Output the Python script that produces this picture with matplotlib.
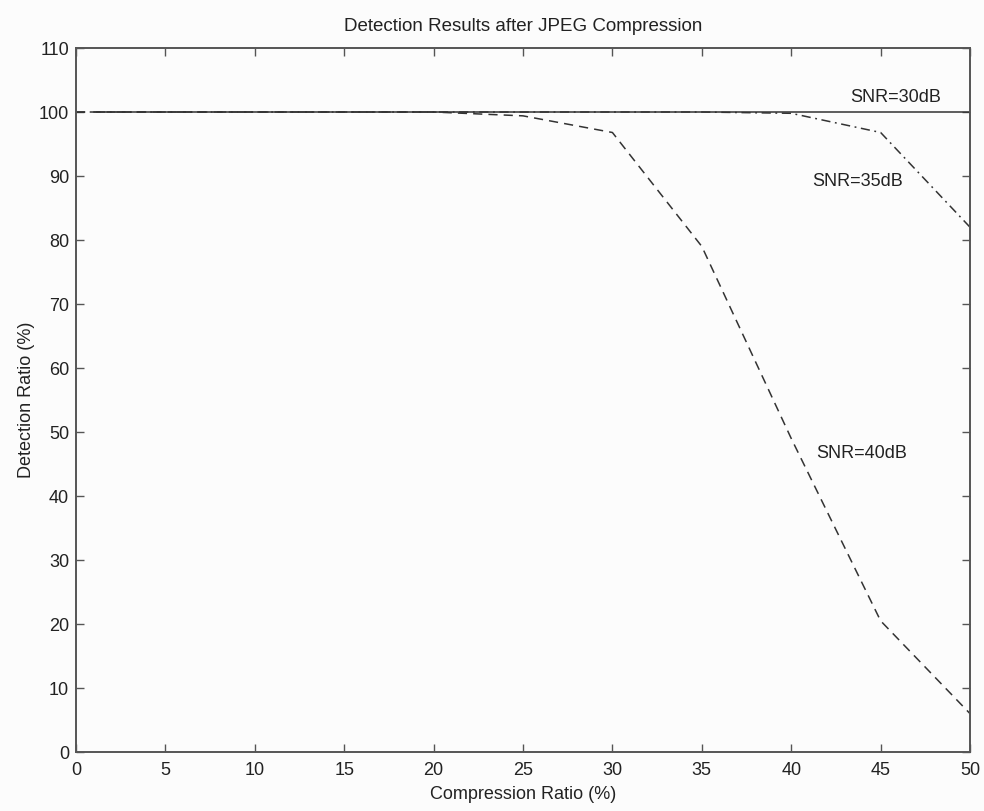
import matplotlib
matplotlib.use("Agg")
import matplotlib.pyplot as plt

plt.rcParams['font.family'] = ['Liberation Sans', 'DejaVu Sans']

# SNR = 30 dB (solid)
x30 = [1, 5, 10, 15, 20, 25, 30, 35, 40, 45, 50]
y30 = [100, 100, 100, 100, 100, 100, 100, 100, 100, 100, 100]

# SNR = 35 dB (dash-dot)
x35 = [0, 5, 10, 15, 20, 25, 30, 35, 40, 45, 50]
y35 = [100, 100, 100, 100, 100, 100, 100, 100, 99.8, 96.8, 82]

# SNR = 40 dB (dashed)
x40 = [0, 5, 10, 15, 20, 25, 30, 35, 40, 45, 50]
y40 = [100, 100, 100, 100, 100, 99.4, 96.8, 79, 49, 20.5, 6]

labels = ["SNR=30dB", "SNR=35dB", "SNR=40dB"]
label_pos = [(43.3, 102.2), (41.2, 89.1), (41.4, 46.7)]

xticks = list(range(0, 51, 5))
yticks = list(range(0, 111, 10))

FS = 13

fig = plt.figure(figsize=(9.84, 8.11), dpi=100, facecolor='#fcfcfc')
ax = fig.add_axes([0.0772, 0.0727, 0.9086, 0.8681])
ax.set_facecolor('#fcfcfc')

ax.plot(x30, y30, color='#333333', lw=1.1, linestyle='-')
ax.plot(x35, y35, color='#333333', lw=1.1, linestyle=(0, (6, 3, 1.2, 3)))
ax.plot(x40, y40, color='#333333', lw=1.1, linestyle=(0, (6, 4)))

for t, (lx, ly) in zip(labels, label_pos):
    ax.text(lx, ly, t, fontsize=FS, color='#222222', ha='left', va='center')

ax.set_xlim(0, 50)
ax.set_ylim(0, 110)
ax.set_xticks(xticks)
ax.set_yticks(yticks)
ax.tick_params(direction='in', length=6, width=1, colors='#555555',
               labelcolor='#222222', labelsize=FS, top=True, right=True)
ax.tick_params(axis='x', pad=7)
ax.tick_params(axis='y', pad=5)
for s in ax.spines.values():
    s.set_color('#555555')
    s.set_linewidth(1.4)

ax.set_title("Detection Results after JPEG Compression", fontsize=FS + 0.5, color='#222222', pad=12)
ax.set_xlabel("Compression Ratio (%)", fontsize=FS, color='#222222', labelpad=5)
ax.set_ylabel("Detection Ratio (%)", fontsize=FS, color='#222222', labelpad=3)

fig.savefig("out.png", dpi=100, facecolor=fig.get_facecolor())
